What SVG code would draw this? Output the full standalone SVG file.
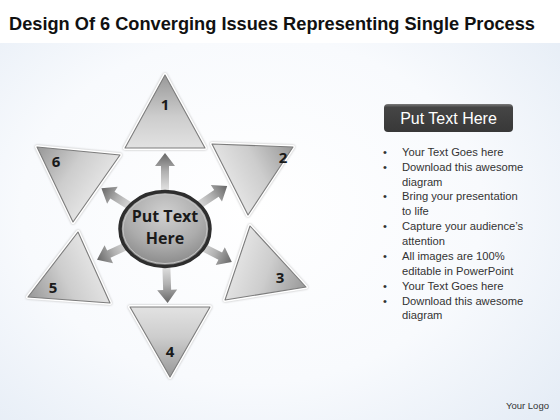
<svg xmlns="http://www.w3.org/2000/svg" width="560" height="420" viewBox="0 0 560 420">
<defs>
<radialGradient id="bg" cx="0.45" cy="0.5" r="0.75">
<stop offset="0" stop-color="#ffffff"/>
<stop offset="0.55" stop-color="#f8fafd"/>
<stop offset="1" stop-color="#e3ebf5"/>
</radialGradient>
<linearGradient id="arrowGrad" x1="0" y1="1" x2="0" y2="0">
<stop offset="0" stop-color="#e2e2e2"/>
<stop offset="0.5" stop-color="#b0b0b0"/>
<stop offset="1" stop-color="#666666"/>
</linearGradient>
<radialGradient id="hubGrad" cx="0.5" cy="0.3" r="0.7">
<stop offset="0" stop-color="#d0d0d0"/>
<stop offset="0.6" stop-color="#acacac"/>
<stop offset="1" stop-color="#888888"/>
</radialGradient>
<linearGradient id="btnGrad" x1="0" y1="0" x2="0" y2="1">
<stop offset="0" stop-color="#7a7a7a"/>
<stop offset="0.12" stop-color="#454545"/>
<stop offset="1" stop-color="#383838"/>
</linearGradient>
<linearGradient id="g1" gradientUnits="userSpaceOnUse" x1="165" y1="78" x2="165" y2="148">
<stop offset="0" stop-color="#9c9c9c"/><stop offset="0.55" stop-color="#cdcdcd"/><stop offset="1" stop-color="#e2e2e2"/>
</linearGradient>
<linearGradient id="g2" gradientUnits="userSpaceOnUse" x1="290" y1="148" x2="230" y2="180">
<stop offset="0" stop-color="#9c9c9c"/><stop offset="0.55" stop-color="#cdcdcd"/><stop offset="1" stop-color="#e2e2e2"/>
</linearGradient>
<linearGradient id="g3" gradientUnits="userSpaceOnUse" x1="303" y1="287" x2="237" y2="263">
<stop offset="0" stop-color="#9c9c9c"/><stop offset="0.55" stop-color="#cdcdcd"/><stop offset="1" stop-color="#e2e2e2"/>
</linearGradient>
<linearGradient id="g4" gradientUnits="userSpaceOnUse" x1="170" y1="374" x2="170" y2="307">
<stop offset="0" stop-color="#9c9c9c"/><stop offset="0.55" stop-color="#cdcdcd"/><stop offset="1" stop-color="#e2e2e2"/>
</linearGradient>
<linearGradient id="g5" gradientUnits="userSpaceOnUse" x1="31" y1="297" x2="94" y2="267">
<stop offset="0" stop-color="#9c9c9c"/><stop offset="0.55" stop-color="#cdcdcd"/><stop offset="1" stop-color="#e2e2e2"/>
</linearGradient>
<linearGradient id="g6" gradientUnits="userSpaceOnUse" x1="40" y1="149" x2="96" y2="188">
<stop offset="0" stop-color="#9c9c9c"/><stop offset="0.55" stop-color="#cdcdcd"/><stop offset="1" stop-color="#e2e2e2"/>
</linearGradient>
<path id="arrow" d="M-4,-38 L-4,-62 L-10,-62 L0,-75 L10,-62 L4,-62 L4,-38 Z" fill="url(#arrowGrad)"/>
<style>
.halo{fill:none;stroke:#ffffff;stroke-width:4;stroke-linejoin:round;filter:drop-shadow(0 0 1px #b8b8b8)}
.tri{stroke:#7c7c7c;stroke-width:1.1;stroke-linejoin:round}
.num{font-family:"Open Sans","Liberation Sans",sans-serif;font-weight:bold;font-size:15px;fill:#1a1a1a;text-anchor:middle}
.hubtxt{font-family:"Open Sans","Liberation Sans",sans-serif;font-weight:bold;font-size:16px;fill:#1a1a1a;text-anchor:middle}
.body{font-family:"Liberation Sans","Open Sans",sans-serif;font-size:11.2px;fill:#333333}
</style>
</defs>
<rect x="0" y="0" width="560" height="420" fill="url(#bg)"/>
<rect x="0" y="0" width="560" height="43" fill="#ffffff"/>
<text x="9" y="30" font-family="Liberation Sans, Arial, sans-serif" font-weight="bold" font-size="17.5" fill="#111111" textLength="526" lengthAdjust="spacingAndGlyphs">Design Of 6 Converging Issues Representing Single Process</text>

<g id="connectors">
<use href="#arrow" transform="translate(165,228) rotate(0)"/>
<use href="#arrow" transform="translate(165,228) rotate(56)"/>
<use href="#arrow" transform="translate(165,228) rotate(117)"/>
<use href="#arrow" transform="translate(165,228) rotate(178)"/>
<use href="#arrow" transform="translate(165,228) rotate(245)"/>
<use href="#arrow" transform="translate(165,228) rotate(302)"/>
</g>

<g id="node-1">
<polygon class="halo" points="165,75 125,148 205,148"/>
<polygon class="tri" fill="url(#g1)" points="165,75 125,148 205,148"/>
<text class="num" x="165" y="110">1</text>
</g>
<g id="node-2">
<polygon class="halo" points="212,144 293,147 248,215"/>
<polygon class="tri" fill="url(#g2)" points="212,144 293,147 248,215"/>
<text class="num" x="283" y="163">2</text>
</g>
<g id="node-3">
<polygon class="halo" points="250,226 306,287 225,300"/>
<polygon class="tri" fill="url(#g3)" points="250,226 306,287 225,300"/>
<text class="num" x="280" y="283">3</text>
</g>
<g id="node-4">
<polygon class="halo" points="130,307 210,307 170,377"/>
<polygon class="tri" fill="url(#g4)" points="130,307 210,307 170,377"/>
<text class="num" x="170" y="357">4</text>
</g>
<g id="node-5">
<polygon class="halo" points="78,232 28,297 110,303"/>
<polygon class="tri" fill="url(#g5)" points="78,232 28,297 110,303"/>
<text class="num" x="53" y="293">5</text>
</g>
<g id="node-6">
<polygon class="halo" points="37,147 120,155 73,222"/>
<polygon class="tri" fill="url(#g6)" points="37,147 120,155 73,222"/>
<text class="num" x="56" y="167">6</text>
</g>

<g id="hub">
<ellipse cx="165" cy="229" rx="45" ry="37.5" fill="url(#hubGrad)" stroke="#2e2e2e" stroke-width="3.5"/>
<ellipse cx="165" cy="229" rx="42" ry="34.5" fill="none" stroke="#c4c4c4" stroke-width="1"/>
<text class="hubtxt" x="165" y="222">Put Text</text>
<text class="hubtxt" x="165" y="244">Here</text>
</g>

<g id="panel">
<rect x="384" y="104" width="129" height="28" rx="4" fill="url(#btnGrad)"/>
<text x="448.5" y="124" font-family="Liberation Sans, Arial, sans-serif" font-size="16" fill="#ffffff" text-anchor="middle">Put Text Here</text>
<g class="body">
<text x="383" y="156">•</text><text x="402" y="156">Your Text Goes here</text>
<text x="383" y="171">•</text><text x="402" y="171">Download this awesome</text>
<text x="402" y="186">diagram</text>
<text x="383" y="200">•</text><text x="402" y="200">Bring your presentation</text>
<text x="402" y="215">to life</text>
<text x="383" y="230">•</text><text x="402" y="230">Capture your audience’s</text>
<text x="402" y="245">attention</text>
<text x="383" y="260">•</text><text x="402" y="260">All images are 100%</text>
<text x="402" y="275">editable in PowerPoint</text>
<text x="383" y="290">•</text><text x="402" y="290">Your Text Goes here</text>
<text x="383" y="305">•</text><text x="402" y="305">Download this awesome</text>
<text x="402" y="319">diagram</text>
</g>
</g>
<text x="506" y="409" font-family="Liberation Sans, Arial, sans-serif" font-size="9.5" fill="#333333">Your Logo</text>
</svg>
